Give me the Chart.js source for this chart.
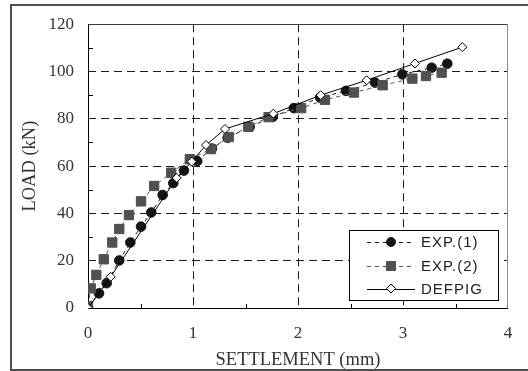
<!DOCTYPE html>
<html>
<head>
<meta charset="utf-8">
<script src="https://cdn.jsdelivr.net/npm/chart.js@4/dist/chart.umd.min.js"></script>
<style>
  html, body { margin: 0; padding: 0; background: #fff; }
  #wrap { position: relative; width: 528px; height: 371px; }
</style>
</head>
<body>
<div id="wrap"><canvas id="c" width="528" height="371"></canvas></div>
<script>
// ---- data ----
const exp1Settlement = [0, 0.105, 0.178, 0.298, 0.403, 0.505, 0.603, 0.711, 0.812, 0.914, 1.04, 1.18, 1.33, 1.54, 1.76, 1.96, 2.21, 2.457, 2.733, 2.994, 3.273, 3.422];
const exp1Load       = [0, 6.2, 10.5, 20.1, 27.7, 34.4, 40.4, 47.8, 52.8, 58.1, 62.1, 67.4, 72.0, 76.6, 80.8, 84.5, 89.0, 91.8, 95.3, 98.8, 101.6, 103.3];

const exp2Settlement = [0, 0.026, 0.079, 0.15, 0.231, 0.298, 0.39, 0.505, 0.63, 0.793, 0.97, 1.171, 1.34, 1.527, 1.72, 2.03, 2.257, 2.533, 2.806, 3.089, 3.219, 3.368];
const exp2Load       = [0.8, 8.3, 14.0, 20.6, 27.7, 33.4, 39.3, 45.1, 51.6, 57.2, 62.9, 67.2, 72.3, 76.6, 80.7, 84.5, 88.0, 91.1, 94.2, 97.0, 98.1, 99.5];

const defpigSettlement = [0, 0.216, 0.845, 0.988, 1.124, 1.305, 1.765, 2.216, 2.654, 3.114, 3.565];
const defpigLoad       = [0, 13.2, 55.0, 61.9, 68.9, 75.7, 82.2, 90.0, 96.3, 103.4, 110.3];

const seriesNames = ['EXP.(1)', 'EXP.(2)', 'DEFPIG'];
const xTitle = 'SETTLEMENT (mm)';
const yTitle = 'LOAD (kN)';

const toPts = (xs, ys) => xs.map((x, i) => ({x: x, y: ys[i]}));

const SERIF = '"Liberation Serif", "DejaVu Serif", serif';

const frame = {
  id: 'frame',
  beforeDraw(chart) {
    const ctx = chart.ctx;
    ctx.save();
    ctx.fillStyle = '#fff';
    ctx.fillRect(0, 0, chart.width, chart.height);
    ctx.strokeStyle = '#505050';
    ctx.lineWidth = 2;
    ctx.beginPath();
    ctx.moveTo(540, 5);
    ctx.lineTo(11, 5);
    ctx.lineTo(11, 370);
    ctx.lineTo(540, 370);
    ctx.stroke();
    ctx.restore();
  },
  beforeDatasetsDraw(chart) {
    const ctx = chart.ctx;
    const a = chart.chartArea;
    const xs = chart.scales.x, ys = chart.scales.y;
    ctx.save();
    ctx.lineWidth = 1;
    ctx.strokeStyle = '#3a3a3a';
    ctx.beginPath();
    ctx.moveTo(a.left, Math.round(a.top) + 0.5);
    ctx.lineTo(a.right, Math.round(a.top) + 0.5);
    ctx.stroke();
    ctx.strokeStyle = '#8a8a8a';
    ctx.beginPath();
    ctx.moveTo(Math.round(a.right) - 0.5, a.top);
    ctx.lineTo(Math.round(a.right) - 0.5, a.bottom);
    ctx.stroke();
    ctx.strokeStyle = '#000';
    ctx.beginPath();
    ctx.moveTo(Math.round(a.left) + 0.5, a.top);
    ctx.lineTo(Math.round(a.left) + 0.5, Math.round(a.bottom) + 0.5);
    ctx.lineTo(a.right, Math.round(a.bottom) + 0.5);
    ctx.stroke();
    ctx.beginPath();
    [0.5, 1.5, 2.5, 3.5].forEach(v => {
      const px = Math.round(xs.getPixelForValue(v)) + 0.5;
      ctx.moveTo(px, a.bottom);
      ctx.lineTo(px, a.bottom - 4);
    });
    [10, 30, 50, 70, 90, 110].forEach(v => {
      const py = Math.round(ys.getPixelForValue(v)) + 0.5;
      ctx.moveTo(a.left, py);
      ctx.lineTo(a.left + 5, py);
    });
    ctx.stroke();
    ctx.restore();
  },
  afterDraw(chart) {
    const ctx = chart.ctx;
    ctx.save();
    const bx = 349.5, by = 230.5, bw = 149, bh = 70;
    ctx.fillStyle = '#fff';
    ctx.fillRect(bx, by, bw, bh);
    ctx.strokeStyle = '#000';
    ctx.lineWidth = 1;
    ctx.strokeRect(bx, by, bw, bh);
    const rows = [242, 266, 288.5];
    const lx1 = 367, lx2 = 415, mx = 391;
    const sets = chart.data.datasets;
    rows.forEach((ry, i) => {
      const ds = sets[i];
      ctx.save();
      ctx.strokeStyle = ds.borderColor;
      ctx.lineWidth = 1;
      ctx.setLineDash(ds.borderDash || []);
      ctx.beginPath();
      ctx.moveTo(lx1, Math.round(ry) + 0.5);
      ctx.lineTo(lx2, Math.round(ry) + 0.5);
      ctx.stroke();
      ctx.restore();
      ctx.save();
      ctx.fillStyle = ds.pointBackgroundColor;
      ctx.strokeStyle = ds.pointBorderColor;
      ctx.lineWidth = 1;
      ctx.beginPath();
      if (i === 0) {
        ctx.arc(mx, ry, 4.5, 0, Math.PI * 2);
      } else if (i === 1) {
        ctx.rect(mx - 4.5, ry - 4.5, 9, 9);
      } else {
        ctx.moveTo(mx - 4.5, ry);
        ctx.lineTo(mx, ry - 4.5);
        ctx.lineTo(mx + 4.5, ry);
        ctx.lineTo(mx, ry + 4.5);
        ctx.closePath();
      }
      ctx.fill();
      ctx.stroke();
      ctx.restore();
      ctx.fillStyle = '#222';
      ctx.font = '15px "Liberation Sans", Arial, sans-serif';
      try { ctx.letterSpacing = '1px'; } catch (e) {}
      ctx.textBaseline = 'middle';
      ctx.textAlign = 'left';
      ctx.fillText(seriesNames[i], 421, ry + 1);
    });
    ctx.restore();
  }
};

const gridColor = (lo, hi) => (c) => {
  const v = c.tick ? c.tick.value : null;
  return (v !== null && v > lo && v < hi) ? '#1a1a1a' : 'rgba(0,0,0,0)';
};

new Chart(document.getElementById('c'), {
  type: 'scatter',
  data: {
    datasets: [
      {
        label: seriesNames[0],
        data: toPts(exp1Settlement, exp1Load),
        showLine: true,
        borderColor: '#1a1a1a',
        borderWidth: 1,
        borderDash: [4, 4],
        pointStyle: 'circle',
        pointRadius: 4.8,
        pointBackgroundColor: '#151515',
        pointBorderColor: '#151515',
        pointBorderWidth: 1,
        order: 3
      },
      {
        label: seriesNames[1],
        data: toPts(exp2Settlement, exp2Load),
        showLine: true,
        borderColor: '#555555',
        borderWidth: 1,
        borderDash: [4, 4],
        pointStyle: 'rect',
        pointRadius: 6.6,
        pointBackgroundColor: '#505050',
        pointBorderColor: '#505050',
        pointBorderWidth: 1,
        order: 2
      },
      {
        label: seriesNames[2],
        data: toPts(defpigSettlement, defpigLoad),
        showLine: true,
        borderColor: '#000',
        borderWidth: 1,
        pointStyle: 'rectRot',
        pointRadius: 4.5,
        pointBackgroundColor: '#fff',
        pointBorderColor: '#000',
        pointBorderWidth: 1,
        order: 1
      }
    ]
  },
  options: {
    responsive: false,
    animation: false,
    events: [],
    layout: { padding: { top: 23, right: 20, left: 0, bottom: 0 } },
    plugins: { legend: { display: false }, tooltip: { enabled: false } },
    scales: {
      x: {
        type: 'linear',
        min: 0, max: 4,
        afterFit(s) { s.height = 63; },
        ticks: { stepSize: 1, padding: 15, color: '#333', font: { family: SERIF, size: 17 } },
        grid: { drawTicks: false, color: gridColor(0, 4), lineWidth: 1 },
        border: { display: false, dash: [8, 5] },
        title: { display: true, text: xTitle, color: '#333', font: { family: SERIF, size: 18.5 }, padding: { top: 0, bottom: 0 } }
      },
      y: {
        type: 'linear',
        min: 0, max: 120,
        afterFit(s) { s.width = 88; },
        ticks: { stepSize: 20, padding: 14, color: '#333', font: { family: SERIF, size: 17 } },
        grid: { drawTicks: false, color: gridColor(0, 120), lineWidth: 1 },
        border: { display: false, dash: [8, 5] },
        title: { display: true, text: yTitle, color: '#333', font: { family: SERIF, size: 18.5 }, padding: { top: 19, bottom: 0 } }
      }
    }
  },
  plugins: [frame]
});
</script>
</body>
</html>
